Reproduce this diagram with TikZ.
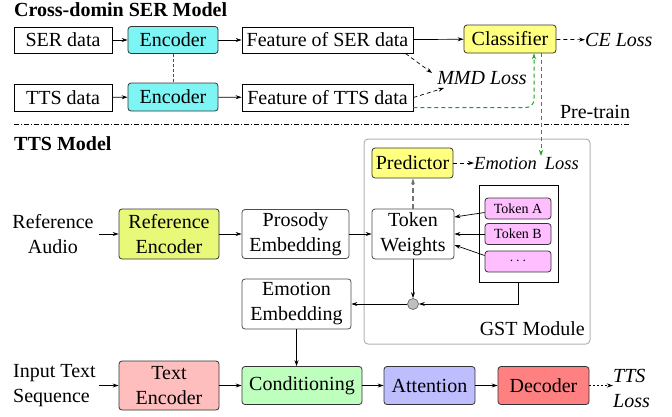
\documentclass[tikz,border=0pt]{standalone}
\usepackage{fontspec}
\setmainfont{Liberation Serif}
\usetikzlibrary{arrows.meta,positioning,calc}
\definecolor{cyanf}{RGB}{125,245,245}
\definecolor{yellowf}{RGB}{255,255,128}
\definecolor{refg}{RGB}{232,248,120}
\definecolor{pinkf}{RGB}{255,190,255}
\definecolor{pinkl}{RGB}{255,190,190}
\definecolor{condg}{RGB}{190,255,190}
\definecolor{attb}{RGB}{190,190,255}
\definecolor{decr}{RGB}{255,128,128}
\definecolor{greenl}{RGB}{30,160,30}
\begin{document}
\begin{tikzpicture}[x=1pt,y=-1pt,
  every node/.style={font=\fontsize{20}{25}\selectfont, inner sep=0pt, align=center},
  itx/.style={font=\itshape\fontsize{20}{25}\selectfont},
  bfx/.style={font=\bfseries\fontsize{20}{25}\selectfont},
  plainbox/.style={draw=black, line width=0.8pt},
  rbox/.style={draw=black!80, line width=0.8pt, rounded corners=3pt},
  wbox/.style={draw=black!70, line width=0.8pt, rounded corners=3pt, fill=white},
  tokbox/.style={rbox, fill=pinkf, minimum width=66pt, minimum height=21pt, font=\fontsize{14}{16}\selectfont},
  arr/.style={-{Stealth[length=6pt,width=4pt]}, line width=0.7pt},
  darr/.style={arr, dash pattern=on 4pt off 3pt},
  garr/.style={arr, draw=greenl, dash pattern=on 4pt off 3pt, line width=1pt},
]
\useasboundingbox (0,0) rectangle (672,416);

% ---------- Cross-domain SER model ----------
\node[bfx, anchor=base west] (t1) at (14,16) {Cross-domin SER Model};
\node[plainbox, minimum width=98pt, minimum height=26pt] (ser) at (63,40) {SER data};
\node[rbox, fill=cyanf, minimum width=90pt, minimum height=27pt] (enc1) at (173,40) {Encoder};
\node[plainbox, minimum width=171pt, minimum height=26pt] (fser) at (327.5,40) {Feature of SER data};
\node[rbox, fill=yellowf, minimum width=92pt, minimum height=28pt] (cls) at (510,39) {Classifier};
\node[itx, anchor=west] (ce) at (585,40) {CE Loss};

\node[plainbox, minimum width=98pt, minimum height=27pt] (tts) at (63,97.5) {TTS data};
\node[rbox, fill=cyanf, minimum width=90pt, minimum height=28pt] (enc2) at (173,97) {Encoder};
\node[plainbox, minimum width=171pt, minimum height=27pt] (ftts) at (327.5,97.5) {Feature of TTS data};
\node[itx] (mmd) at (482,78) {MMD Loss};
\node (pt) at (595,112) {Pre-train};

\coordinate (sepL) at (14,124);
\coordinate (sepR) at (630,124);
\draw[line width=0.6pt, dash pattern=on 5pt off 2pt on 1pt off 2pt] (sepL) -- (sepR);

\draw[arr] (ser) -- (enc1);
\draw[arr] (enc1) -- (fser);
\draw[arr] (fser) -- (cls);
\draw[arr] (tts) -- (enc2);
\draw[arr] (enc2) -- (ftts);
\draw[line width=0.7pt, black!70, dash pattern=on 3pt off 2pt] (enc1) -- (enc2);
\draw[darr] (cls) -- (ce);
\draw[darr] ([xshift=-8pt]fser.south east) -- ([xshift=-5pt,yshift=5pt]mmd.west);
\draw[darr] (ftts.east) -- ([xshift=7pt,yshift=-10pt]mmd.west);
\draw[garr, rounded corners=8pt] ([yshift=-10pt]ftts.east) -| ([xshift=24pt]cls.south);

% ---------- TTS model ----------
\node[bfx, anchor=base west] (t2) at (14,150) {TTS Model};

\node[draw=black!30, line width=1pt, rounded corners=4pt, minimum width=226pt, minimum height=205pt] (gst) at (477,241.5) {};
\node[anchor=base east] (gstl) at (585,335) {GST Module};

\node (refa) at (53,234) {Reference\\Audio};
\node[rbox, fill=refg, minimum width=100pt, minimum height=50pt] (renc) at (169,234) {Reference\\Encoder};
\node[wbox, minimum width=107pt, minimum height=49pt] (pros) at (295.5,234) {Prosody\\Embedding};
\node[wbox, minimum width=82pt, minimum height=50pt] (tw) at (413,234) {Token\\Weights};
\node[rbox, fill=yellowf, minimum width=81pt, minimum height=30pt] (pred) at (412.5,163) {Predictor};
\node[anchor=west, font=\itshape\fontsize{18.5}{22}\selectfont] (eloss) at (474,163) {Emotion\hspace{8pt}Loss};
\coordinate (emoarr) at (541,156);
\draw[garr] ([xshift=31pt]cls.south) -- (emoarr);

\node[plainbox, minimum width=79pt, minimum height=97pt] (tcol) at (518.5,233.5) {};
\node[tokbox] (ta) at (518,208.5) {Token A};
\node[tokbox] (tb) at (518,234) {Token B};
\node[tokbox] (td) at (518,261.5) {$\cdots$};

\draw[arr] ([yshift=-4pt]ta.west) -- ([yshift=17pt]tw.east);
\draw[arr] (tb.west) -- (tw.east);
\draw[arr] ([yshift=6pt]td.west) -- ([yshift=-11pt]tw.east);

\node[circle, draw=black!60, fill=gray!50, line width=0.7pt, minimum size=11pt] (mix) at (413,304) {};
\node[wbox, minimum width=109pt, minimum height=50pt] (emb) at (296.5,304) {Emotion\\Embedding};

\draw[arr] ([xshift=5pt]refa.east) -- (renc.west);
\draw[arr] (renc) -- (pros);
\draw[arr] (pros) -- (tw);
\draw[arr, draw=black!55, line width=1.2pt, dash pattern=on 5pt off 3pt] (tw.north) -- (tw.north |- pred.south);
\draw[darr] (pred) -- (eloss);
\draw[arr] (tw) -- (mix);
\draw[arr] (tcol.south) |- (mix);
\draw[arr] (mix) -- (emb);

\node[anchor=west, align=left] (its) at (13,385.5) {Input Text\\Sequence};
\node[rbox, fill=pinkl, minimum width=100pt, minimum height=49pt] (tenc) at (169,385.5) {Text\\Encoder};
\node[rbox, fill=condg, minimum width=120pt, minimum height=38pt] (cond) at (302,385.5) {Conditioning};
\node[rbox, fill=attb, minimum width=91pt, minimum height=38pt] (att) at (429.5,385.5) {Attention};
\node[rbox, fill=decr, minimum width=91pt, minimum height=38pt] (dec) at (543.5,385.5) {Decoder};
\node[itx, anchor=west, align=left] (tloss) at (613,388) {TTS\\Loss};

\draw[arr] (emb.south) -- (emb.south |- cond.north);
\draw[arr] ([xshift=3pt]its.east) -- (tenc.west);
\draw[arr] (tenc) -- (cond);
\draw[arr] (cond) -- (att);
\draw[arr] (att) -- (dec);
\draw[arr, dash pattern=on 2pt off 2pt] (dec) -- (tloss.west |- dec.east);
\end{tikzpicture}
\end{document}
